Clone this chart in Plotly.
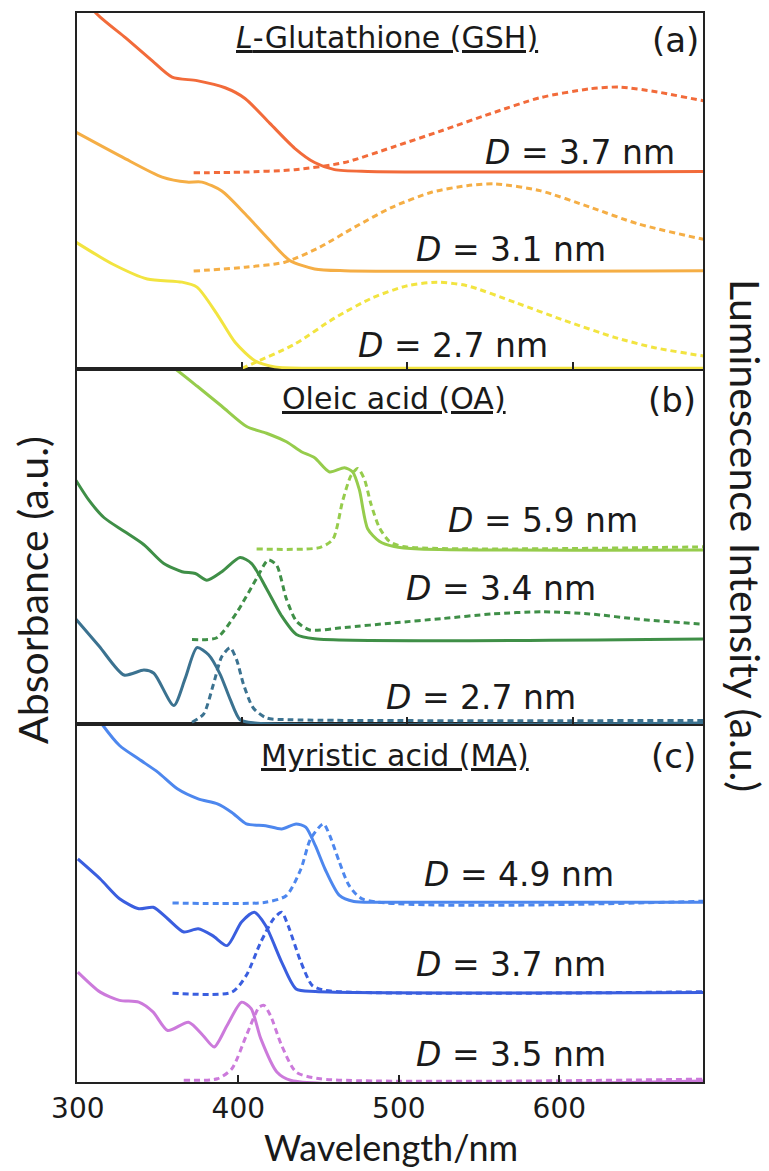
import plotly.graph_objects as go

# ---------------- data (wavelength in nm, intensity in panel fraction) ----------------
# Panel (a) L-Glutathione (GSH)
a37_abs_wl = [300, 312, 330, 345, 358, 373, 390, 402, 417, 432, 444, 456, 476, 690]
a37_abs = [1.08, 1.0, 0.93, 0.87, 0.82, 0.81, 0.79, 0.76, 0.69, 0.62, 0.58, 0.56, 0.555, 0.555]
a37_em_wl = [371, 400, 432, 462, 491, 521, 550, 580, 610, 628, 651, 678, 690]
a37_em = [0.551, 0.553, 0.56, 0.58, 0.623, 0.67, 0.717, 0.762, 0.787, 0.792, 0.778, 0.754, 0.745]
a31_abs_wl = [300, 328, 352, 367, 376, 388, 402, 417, 429, 444, 462, 690]
a31_abs = [0.665, 0.595, 0.539, 0.525, 0.525, 0.50, 0.436, 0.361, 0.305, 0.281, 0.276, 0.276]
a31_em_wl = [371, 402, 426, 447, 468, 491, 515, 536, 553, 580, 610, 639, 678, 690]
a31_em = [0.275, 0.286, 0.30, 0.342, 0.398, 0.455, 0.497, 0.515, 0.52, 0.501, 0.455, 0.408, 0.365, 0.355]
a27_abs_wl = [300, 322, 343, 364, 373, 385, 396, 408, 420, 447, 690]
a27_abs = [0.356, 0.295, 0.253, 0.244, 0.23, 0.155, 0.075, 0.023, 0.006, 0.002, 0.002]
a27_em_wl = [400, 408, 432, 456, 479, 500, 518, 536, 565, 595, 625, 648, 678, 690]
a27_em = [0.002, 0.018, 0.07, 0.143, 0.2, 0.234, 0.244, 0.234, 0.187, 0.136, 0.089, 0.061, 0.037, 0.03]

# Panel (b) Oleic acid (OA)
b59_abs_wl = [300, 330, 360, 373, 388, 403, 415, 427, 436, 444, 453, 462, 467, 471, 476, 483, 492, 507, 690]
b59_abs = [1.22, 1.1, 1.0, 0.952, 0.895, 0.838, 0.819, 0.795, 0.767, 0.75, 0.71, 0.722, 0.71, 0.66, 0.55, 0.515, 0.50, 0.493, 0.49]
b59_em_wl = [409, 447, 455, 461, 466, 470, 474, 478, 483, 489, 497, 690]
b59_em = [0.493, 0.497, 0.52, 0.63, 0.70, 0.72, 0.69, 0.62, 0.554, 0.515, 0.50, 0.50]
b34_abs_wl = [300, 308, 317, 329, 341, 353, 364, 372, 379, 388, 399, 406, 415, 424, 433, 444, 690]
b34_abs = [0.686, 0.629, 0.581, 0.543, 0.505, 0.452, 0.429, 0.424, 0.405, 0.429, 0.469, 0.452, 0.381, 0.305, 0.252, 0.24, 0.24]
b34_em_wl = [370, 385, 397, 409, 416, 421, 427, 433, 441, 462, 492, 521, 551, 581, 610, 640, 679]
b34_em = [0.238, 0.243, 0.314, 0.41, 0.462, 0.448, 0.352, 0.29, 0.265, 0.272, 0.285, 0.297, 0.31, 0.316, 0.31, 0.295, 0.281]
b27_abs_wl = [300, 314, 329, 341, 347, 359, 366, 373, 380, 387, 393, 399, 408, 690]
b27_abs = [0.295, 0.219, 0.138, 0.152, 0.143, 0.052, 0.13, 0.215, 0.195, 0.14, 0.07, 0.012, 0.003, 0.003]
b27_em_wl = [370, 377, 383, 388, 393, 397, 401, 407, 415, 430, 690]
b27_em = [0.005, 0.028, 0.113, 0.19, 0.215, 0.18, 0.113, 0.045, 0.017, 0.012, 0.01]

# Panel (c) Myristic acid (MA)
c49_abs_wl = [300, 315, 326, 338, 350, 362, 375, 387, 396, 405, 417, 427, 436, 442, 448, 454, 463, 472, 491, 690]
c49_abs = [1.1, 1.0, 0.94, 0.902, 0.865, 0.819, 0.791, 0.777, 0.753, 0.721, 0.716, 0.707, 0.721, 0.712, 0.66, 0.595, 0.521, 0.504, 0.502, 0.502]
c49_em_wl = [359, 417, 430, 439, 445, 453, 457, 463, 469, 478, 690]
c49_em = [0.5, 0.502, 0.521, 0.595, 0.679, 0.721, 0.688, 0.614, 0.549, 0.51, 0.505]
c37_abs_wl = [300, 314, 326, 338, 347, 356, 366, 375, 384, 393, 402, 410, 417, 427, 436, 448, 690]
c37_abs = [0.623, 0.567, 0.512, 0.484, 0.488, 0.456, 0.419, 0.428, 0.409, 0.381, 0.447, 0.474, 0.437, 0.335, 0.26, 0.253, 0.25]
c37_em_wl = [359, 396, 405, 414, 422, 427, 431, 439, 446, 454, 690]
c37_em = [0.248, 0.251, 0.298, 0.391, 0.456, 0.474, 0.437, 0.335, 0.27, 0.256, 0.252]
c35_abs_wl = [300, 314, 326, 338, 347, 356, 369, 378, 385, 393, 402, 408, 414, 424, 433, 690]
c35_abs = [0.307, 0.251, 0.228, 0.223, 0.195, 0.144, 0.167, 0.13, 0.098, 0.158, 0.223, 0.205, 0.121, 0.028, 0.004, 0.003]
c35_em_wl = [366, 387, 396, 405, 413, 416, 420, 427, 436, 451, 690]
c35_em = [0.005, 0.009, 0.037, 0.13, 0.209, 0.214, 0.186, 0.102, 0.028, 0.009, 0.008]

panel_titles = ["<u><i>L</i>-Glutathione (GSH)</u>", "<u>Oleic acid (OA)</u>", "<u>Myristic acid (MA)</u>"]
panel_letters = ["(a)", "(b)", "(c)"]
size_labels = ["3.7", "3.1", "2.7", "5.9", "3.4", "2.7", "4.9", "3.7", "3.5"]
x_ticks = [300, 400, 500, 600]

# ---------------- figure ----------------
W, H = 769, 1171
L, R, T, B = 77, 703, 13, 1082
def px_x(p):
    return (p - L) / (R - L)
def px_y(p):
    return (B - p) / (B - T)

dom_c = [0, px_y(724)]
dom_b = [px_y(724), px_y(369)]
dom_a = [px_y(369), 1]

fig = go.Figure()

curves = [
    # (wl, vals, color, dashed, xaxis, yaxis)
    (a37_abs_wl, a37_abs, "#F26B3A", False, "x3", "y3"),
    (a37_em_wl, a37_em, "#F26B3A", True, "x3", "y3"),
    (a31_abs_wl, a31_abs, "#F5AE45", False, "x3", "y3"),
    (a31_em_wl, a31_em, "#F5AE45", True, "x3", "y3"),
    (a27_abs_wl, a27_abs, "#F2E440", False, "x3", "y3"),
    (a27_em_wl, a27_em, "#F2E440", True, "x3", "y3"),
    (b59_abs_wl, b59_abs, "#96CC4C", False, "x2", "y2"),
    (b59_em_wl, b59_em, "#96CC4C", True, "x2", "y2"),
    (b34_abs_wl, b34_abs, "#3F8F47", False, "x2", "y2"),
    (b34_em_wl, b34_em, "#3F8F47", True, "x2", "y2"),
    (b27_abs_wl, b27_abs, "#3B7290", False, "x2", "y2"),
    (b27_em_wl, b27_em, "#3B7290", True, "x2", "y2"),
    (c49_abs_wl, c49_abs, "#4D87EE", False, "x", "y"),
    (c49_em_wl, c49_em, "#4D87EE", True, "x", "y"),
    (c37_abs_wl, c37_abs, "#3A5EDF", False, "x", "y"),
    (c37_em_wl, c37_em, "#3A5EDF", True, "x", "y"),
    (c35_abs_wl, c35_abs, "#CC7ADB", False, "x", "y"),
    (c35_em_wl, c35_em, "#CC7ADB", True, "x", "y"),
]
for wl, vals, col, dashed, xa, ya in curves:
    fig.add_trace(go.Scatter(
        x=wl, y=vals, mode="lines", xaxis=xa, yaxis=ya, showlegend=False,
        line=dict(color=col, width=3, shape="spline", smoothing=0.7,
                  dash="6px,4px" if dashed else "solid"),
        hoverinfo="skip"))

axis_line = dict(showline=True, mirror=True, linecolor="#222", linewidth=2,
                 showgrid=False, zeroline=False)
xcommon = dict(ticks="inside", ticklen=7, tickwidth=2, tickcolor="#222", **axis_line)

fig.update_layout(
    width=W, height=H,
    margin=dict(l=L, r=W - R, t=T, b=H - B),
    paper_bgcolor="white", plot_bgcolor="white",
    xaxis=dict(domain=[0, 1], range=[299.5, 689.5], tickvals=x_ticks,
               ticktext=[str(v) for v in x_ticks], anchor="y",
               tickfont=dict(family="DejaVu Sans", size=28, color="#1a1a1a"), **xcommon),
    xaxis2=dict(domain=[0, 1], range=[300.6, 678.4], tickvals=x_ticks[1:],
                showticklabels=False, anchor="y2", **xcommon),
    xaxis3=dict(domain=[0, 1], range=[300.6, 678.4], tickvals=x_ticks[1:],
                showticklabels=False, anchor="y3", **xcommon),
    yaxis=dict(domain=dom_c, range=[0, 1], showticklabels=False, ticks="", anchor="x", **axis_line),
    yaxis2=dict(domain=dom_b, range=[0, 1], showticklabels=False, ticks="", anchor="x2", **axis_line),
    yaxis3=dict(domain=dom_a, range=[0, 1], showticklabels=False, ticks="", anchor="x3", **axis_line),
)

txt = "#1a1a1a"
ann = []
title_pos = [(387, 37), (394, 399), (395, 755)]
letter_pos = [(675, 40), (672, 400), (673, 756)]
for t, (x, y) in zip(panel_titles, title_pos):
    ann.append(dict(text=t, x=px_x(x), y=px_y(y), xref="paper", yref="paper",
                    xanchor="center", yanchor="middle", showarrow=False,
                    font=dict(family="DejaVu Sans", size=30, color=txt)))
for t, (x, y) in zip(panel_letters, letter_pos):
    ann.append(dict(text=t, x=px_x(x), y=px_y(y), xref="paper", yref="paper",
                    xanchor="center", yanchor="middle", showarrow=False,
                    font=dict(family="DejaVu Sans", size=34, color=txt)))
d_pos = [(483, 152), (414, 249), (356, 346), (446, 520), (404, 589), (384, 697),
         (422, 874), (414, 964), (414, 1054)]
for s, (x, y) in zip(size_labels, d_pos):
    ann.append(dict(text="<i>D</i> = " + s + " nm", x=px_x(x), y=px_y(y),
                    xref="paper", yref="paper", xanchor="left", yanchor="middle",
                    showarrow=False, font=dict(family="DejaVu Sans", size=33, color=txt)))
ann.append(dict(text="Absorbance (a.u.)", x=px_x(32), y=px_y(590), xref="paper", yref="paper",
                textangle=-90, xanchor="center", yanchor="middle", showarrow=False,
                font=dict(family="Lato", size=41, color=txt)))
ann.append(dict(text="Luminescence Intensity (a.u.)", x=px_x(746), y=px_y(535), xref="paper",
                yref="paper", textangle=90, xanchor="center", yanchor="middle", showarrow=False,
                font=dict(family="Lato", size=41, color=txt)))
ann.append(dict(text="Wavelength/nm", x=px_x(391), y=px_y(1147), xref="paper", yref="paper",
                xanchor="center", yanchor="middle", showarrow=False,
                font=dict(family="Lato", size=36, color=txt)))
fig.update_layout(annotations=ann)

fig.write_html("out.html")
